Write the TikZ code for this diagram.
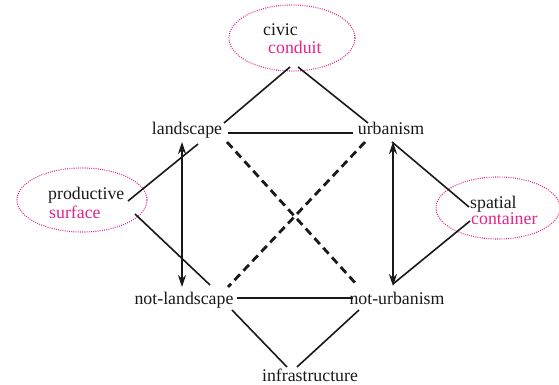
\documentclass[tikz,border=0pt]{standalone}
\usepackage{fontspec}
\setmainfont{Liberation Serif}
\newfontfamily\tms{Liberation Serif}
\usetikzlibrary{shapes.geometric,arrows.meta}
\definecolor{mag}{RGB}{225,35,140}
\definecolor{ink}{RGB}{25,25,25}
\tikzset{
  lbl/.style={inner sep=0pt, anchor=base, text=ink},
  lbll/.style={inner sep=0pt, anchor=base west, text=ink},
  pinklbl/.style={inner sep=0pt, anchor=base west, text=mag},
  bubble/.style={ellipse, draw=mag, line width=1.1pt, dash pattern=on 0.9pt off 1.3pt, inner sep=0pt},
  conn/.style={draw=ink, line width=1.6pt},
  dashconn/.style={draw=ink, line width=2.8pt, dash pattern=on 8pt off 5pt},
  dbl/.style={draw=ink, line width=1.6pt, {Stealth[length=12pt,width=8pt]}-{Stealth[length=12pt,width=8pt]}}
}
\begin{document}
\begin{tikzpicture}[x=1pt,y=-1pt,font=\tms\fontsize{17.8}{20}\selectfont]
\useasboundingbox (0,0) rectangle (559,385);
% ellipses
\node[bubble, minimum width=126pt, minimum height=66pt] (civicE) at (292,38) {};
\node[bubble, minimum width=130pt, minimum height=64pt] (prodE) at (82,200) {};
\node[bubble, minimum width=124pt, minimum height=62pt] (spatE) at (498,208) {};
% ellipse texts
\node[lbll] (civic) at (263,36) {civic};
\node[pinklbl] (conduit) at (268,54) {conduit};
\node[lbll] (productive) at (48,199) {productive};
\node[pinklbl] (surface) at (49,218) {surface};
\node[lbll] (spatial) at (470,208) {spatial};
\node[pinklbl] (container) at (471,224) {container};
% main nodes
\node[lbl] (landscape) at (187,135) {landscape};
\node[lbl] (urbanism) at (391,135) {urbanism};
\node[lbl] (notland) at (184,304) {not-landscape};
\node[lbl] (noturb) at (397,304) {not-urbanism};
\node[lbl] (infra) at (310,381) {infrastructure};
% coordinates
\coordinate (cL) at (290,67);
\coordinate (cLe) at (224,123);
\coordinate (cR) at (298,67);
\coordinate (cRe) at (368,123);
\coordinate (hT1) at (228,133);
\coordinate (hT2) at (353,133);
\coordinate (hB1) at (237,298);
\coordinate (hB2) at (353,298);
\coordinate (iL1) at (232,310);
\coordinate (iL2) at (287,367);
\coordinate (iR1) at (359,310);
\coordinate (iR2) at (297,367);
\coordinate (d1a) at (227,142);
\coordinate (d1b) at (358,286);
\coordinate (d2a) at (365,142);
\coordinate (d2b) at (228,287);
\coordinate (vL1) at (182,142);
\coordinate (vL2) at (182,287);
\coordinate (vR1) at (393,142);
\coordinate (vR2) at (393,286);
\coordinate (pU1) at (128,201);
\coordinate (pU2) at (198,144);
\coordinate (pD1) at (135,214);
\coordinate (pD2) at (210,285);
\coordinate (sU1) at (469,207);
\coordinate (sU2) at (392,142);
\coordinate (sD1) at (470,221);
\coordinate (sD2) at (393,284);
% connectors
\draw[conn] (cL) -- (cLe);
\draw[conn] (cR) -- (cRe);
\draw[conn] (hT1) -- (hT2);
\draw[conn] (hB1) -- (hB2);
\draw[conn] (iL1) -- (iL2);
\draw[conn] (iR1) -- (iR2);
\draw[dashconn] (d1a) -- (d1b);
\draw[dashconn] (d2a) -- (d2b);
\draw[conn] (pU1) -- (pU2);
\draw[conn] (pD1) -- (pD2);
\draw[conn] (sU1) -- (sU2);
\draw[conn] (sD1) -- (sD2);
\draw[dbl] (vL2) -- (vL1);
\draw[dbl] (vR2) -- (vR1);
\end{tikzpicture}
\end{document}
